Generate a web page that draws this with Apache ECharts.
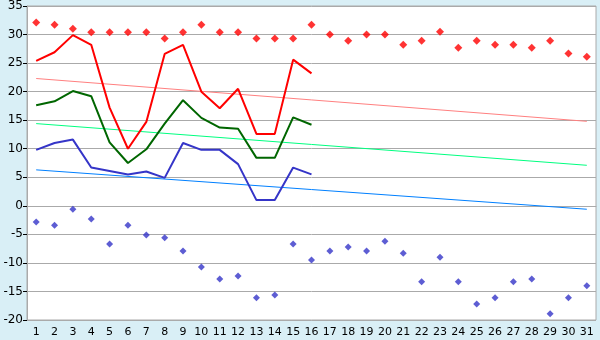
<!DOCTYPE html>
<html><head><meta charset="utf-8">
<script src="https://cdn.jsdelivr.net/npm/echarts@6/dist/echarts.min.js"></script>
<style>html,body{margin:0;padding:0;background:#d9eff6;}#c{width:600px;height:340px;}</style>
</head><body><div id="c"></div>
<script>
const days = ['1','2','3','4','5','6','7','8','9','10','11','12','13','14','15','16','17','18','19','20','21','22','23','24','25','26','27','28','29','30','31'];
const yTicks = [-20,-15,-10,-5,0,5,10,15,20,25,30,35];
const recordMax = [32.1,31.7,31.0,30.4,30.4,30.4,30.4,29.3,30.4,31.7,30.4,30.4,29.3,29.3,29.3,31.7,30.0,28.9,30.0,30.0,28.2,28.9,30.5,27.7,28.9,28.2,28.2,27.7,28.9,26.7,26.1];
const recordMin = [-2.85,-3.4,-0.6,-2.3,-6.7,-3.4,-5.1,-5.6,-7.9,-10.7,-12.8,-12.3,-16.1,-15.6,-6.7,-9.5,-7.9,-7.2,-7.9,-6.2,-8.3,-13.3,-9.0,-13.3,-17.2,-16.1,-13.3,-12.8,-18.9,-16.1,-14.0];
const dailyMax = [25.4,26.9,29.9,28.2,17.2,10.0,14.7,26.6,28.2,20.0,17.1,20.5,12.6,12.6,25.6,23.2];
const dailyMean = [17.6,18.3,20.1,19.2,11.1,7.5,9.9,14.4,18.5,15.4,13.7,13.5,8.4,8.4,15.5,14.2];
const dailyMin = [9.8,11.0,11.6,6.7,6.1,5.5,6.0,4.9,11.0,9.8,9.8,7.3,1.0,1.0,6.7,5.5];
const trendMax = [22.3,14.8];
const trendMean = [14.4,7.1];
const trendMin = [6.3,-0.6];

const chart = echarts.init(document.getElementById('c'), null, {renderer:'canvas'});
const ends = t => [[days[0], t[0]], [days[days.length-1], t[1]]];
chart.setOption({
  backgroundColor:'#d9eff6',
  animation:false,
  grid:{left:27,top:5,width:569,height:315,show:true,backgroundColor:'#ffffff',borderColor:'#aaaaaa',borderWidth:1},
  xAxis:{type:'category',data:days,boundaryGap:true,
    axisLine:{lineStyle:{color:'#aaaaaa',width:1}},
    axisTick:{alignWithLabel:true,length:5,lineStyle:{color:'#000'}},
    axisLabel:{color:'#000',fontFamily:'DejaVu Sans',fontSize:11,margin:7,interval:0},
    splitLine:{show:false}},
  yAxis:{type:'value',min:yTicks[0],max:yTicks[yTicks.length-1],interval:5,
    axisLine:{show:true,lineStyle:{color:'#aaaaaa'}},
    axisTick:{show:true,length:4,lineStyle:{color:'#000'}},
    axisLabel:{color:'#000',fontFamily:'DejaVu Sans',fontSize:12,margin:4},
    splitLine:{lineStyle:{color:'#aaaaaa',width:1}}},
  series:[
    {type:'line',data:ends(trendMax),symbol:'none',lineStyle:{color:'#ff8080',width:1}},
    {type:'line',data:ends(trendMean),symbol:'none',lineStyle:{color:'#00ff80',width:1}},
    {type:'line',data:ends(trendMin),symbol:'none',lineStyle:{color:'#0080ff',width:1}},
    {type:'line',data:dailyMax,symbol:'none',lineStyle:{color:'#ff0000',width:2}},
    {type:'line',data:dailyMean,symbol:'none',lineStyle:{color:'#006600',width:2}},
    {type:'line',data:dailyMin,symbol:'none',lineStyle:{color:'#3535c8',width:2}},
    {type:'scatter',data:recordMax,symbol:'diamond',symbolSize:8,itemStyle:{color:'#ff0000'}},
    {type:'scatter',data:recordMin,symbol:'diamond',symbolSize:7,itemStyle:{color:'#3535c8'}}
  ]
});
</script></body></html>
